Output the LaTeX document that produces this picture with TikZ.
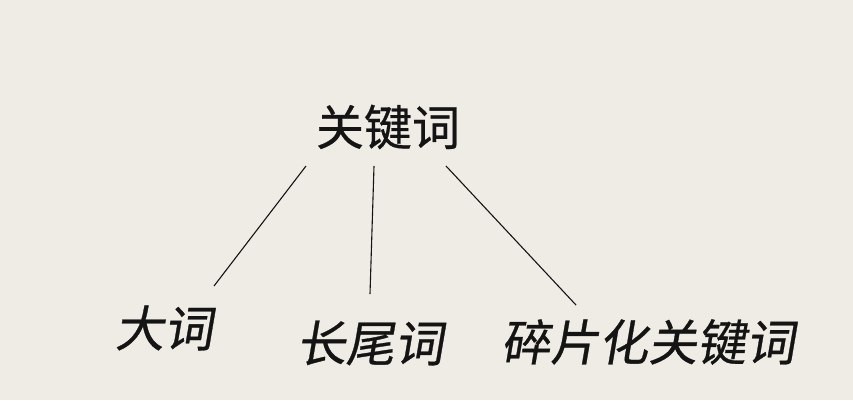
\documentclass[tikz,border=0pt]{standalone}
\usepackage{fontspec}
\setmainfont{Noto Sans CJK SC}[FakeBold=0.6]
\newfontfamily\cjkplain[FakeBold=0.6]{Noto Sans CJK SC}
\newfontfamily\cjkslant[FakeSlant=0.17, FakeBold=0.6]{Noto Sans CJK SC}
\definecolor{paper}{RGB}{239, 236, 230}
\definecolor{ink}{RGB}{20, 20, 20}

\begin{document}
\begin{tikzpicture}[x=1pt, y=-1pt,
    word/.style={inner sep=0pt, text=ink, font=\fontsize{48}{48}\cjkplain},
    leaf/.style={inner sep=0pt, text=ink, font=\fontsize{49}{49}\cjkslant},
    branch/.style={draw=ink, line width=1.1pt}]
    \fill[paper] (0,0) rectangle (853,400);
    \useasboundingbox (0,0) rectangle (853,400);

    \node[word] (key) at (388,127) {关键词};
    \node[leaf] (big) at (164,328) {大词};
    \node[leaf] (long) at (370,343) {长尾词};
    \node[leaf] (frag) at (648,342) {碎片化关键词};

    % line ends
    \coordinate (k1) at (306,166);
    \coordinate (k2) at (374,166);
    \coordinate (k3) at (446,166);
    \coordinate (b1) at (214,286);
    \coordinate (b2) at (370,294);
    \coordinate (b3) at (576,305);

    \draw[branch] (k1) -- (b1);
    \draw[branch] (k2) -- (b2);
    \draw[branch] (k3) -- (b3);
\end{tikzpicture}
\end{document}
